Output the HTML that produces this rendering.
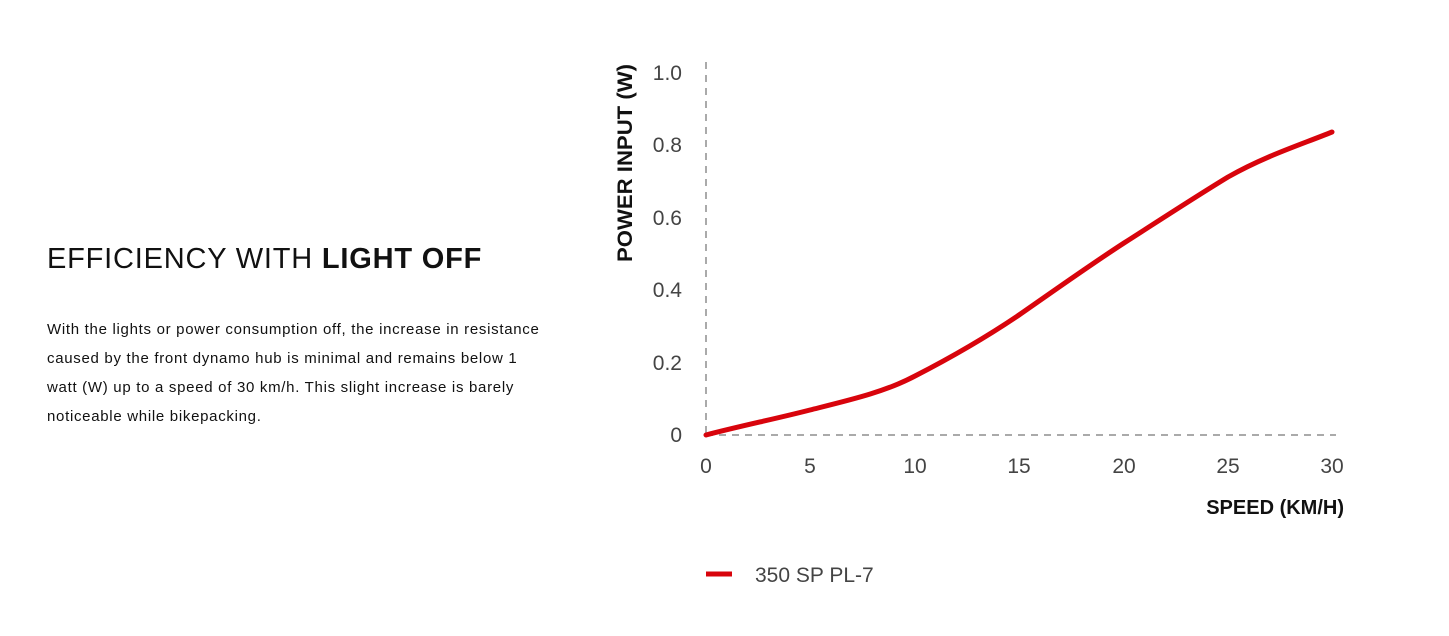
<!DOCTYPE html>
<html><head><meta charset="utf-8"><style>
body{margin:0;width:1449px;height:636px;background:#fff;overflow:hidden;font-family:"Liberation Sans",sans-serif;color:#111}
.t{position:absolute;left:47px;top:243px;font-size:29px;letter-spacing:0.8px;white-space:nowrap}
.p{position:absolute;left:47px;top:315px;font-size:15px;line-height:29px;white-space:nowrap;letter-spacing:0.7px}
svg{position:absolute;left:0;top:0}
</style></head><body>
<div class="t">EFFICIENCY WITH <b>LIGHT OFF</b></div>
<div class="p">With the lights or power consumption off, the increase in resistance<br>caused by the front dynamo hub is minimal and remains below 1<br>watt (W) up to a speed of 30 km/h. This slight increase is barely<br>noticeable while bikepacking.</div>
<svg width="1449" height="636" font-family="Liberation Sans, sans-serif">
<line x1="706" y1="62" x2="706" y2="435" stroke="#aaa" stroke-width="2" stroke-dasharray="7,6"/>
<line x1="706" y1="435" x2="1336" y2="435" stroke="#aaa" stroke-width="2" stroke-dasharray="7,6"/>
<g font-size="21" fill="#444" text-anchor="end">
<text x="682" y="80">1.0</text><text x="682" y="152">0.8</text><text x="682" y="225">0.6</text>
<text x="682" y="297">0.4</text><text x="682" y="370">0.2</text><text x="682" y="442">0</text>
</g>
<g font-size="21" fill="#444" text-anchor="middle">
<text x="706" y="473">0</text><text x="810" y="473">5</text><text x="915" y="473">10</text>
<text x="1019" y="473">15</text><text x="1124" y="473">20</text><text x="1228" y="473">25</text><text x="1332" y="473">30</text>
</g>
<text x="1344" y="514" font-size="20" font-weight="bold" text-anchor="end" fill="#111">SPEED (KM/H)</text>
<text transform="translate(632,163) rotate(-90)" font-size="21" font-weight="bold" text-anchor="middle" fill="#111" textLength="198" lengthAdjust="spacingAndGlyphs">POWER INPUT (W)</text>
<path d="M706,435 C740,426 775,419 810,410 C850,400 885,392 915,376 C950,358 985,338 1019,315 C1055,290 1090,265 1124,243 C1160,220 1195,197 1228,177 C1265,156 1300,145 1332,132" fill="none" stroke="#d8040c" stroke-width="5" stroke-linecap="round"/>
<line x1="706" y1="574" x2="732" y2="574" stroke="#d8040c" stroke-width="5"/>
<text x="755" y="582" font-size="21" fill="#444">350 SP PL-7</text>
</svg>
</body></html>
